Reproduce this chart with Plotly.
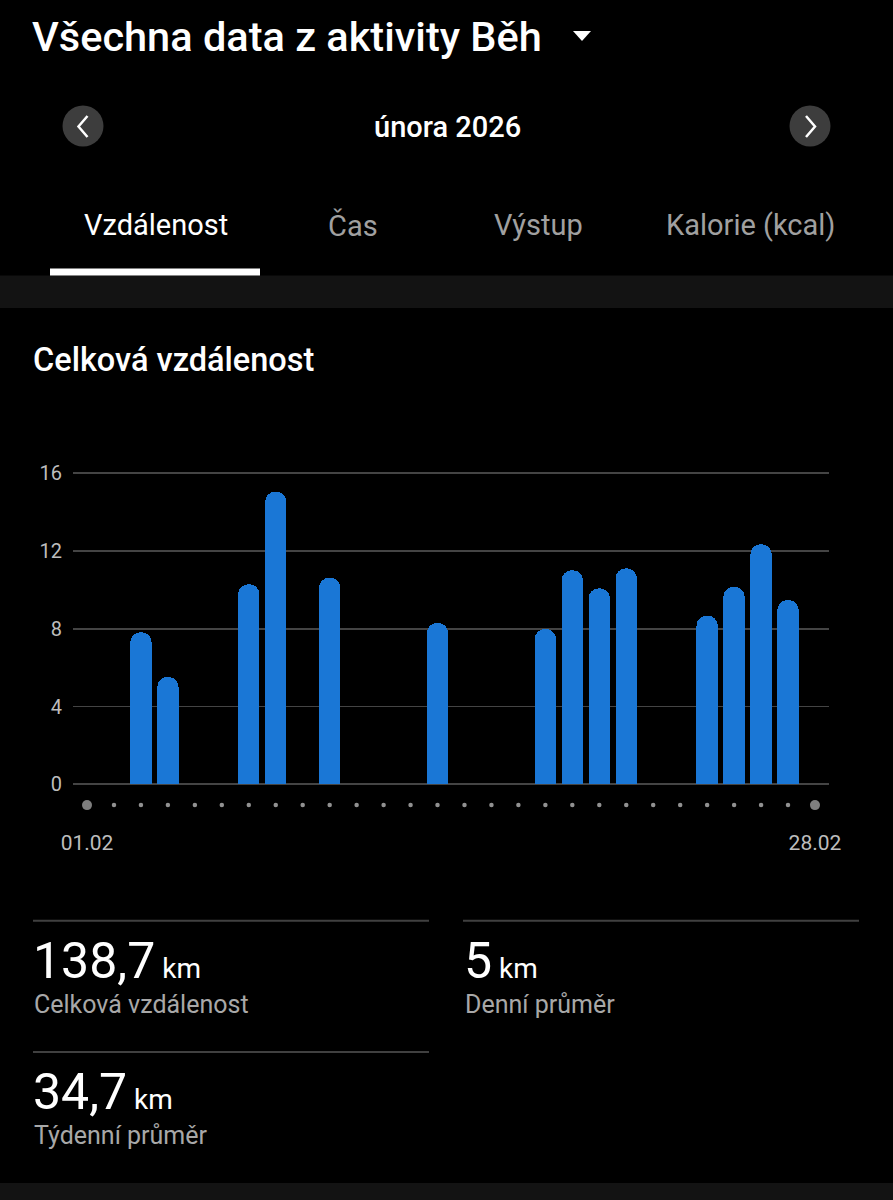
import plotly.graph_objects as go

# ---------------- data ----------------
run_days = [3, 4, 7, 8, 10, 14, 18, 19, 20, 21, 24, 25, 26, 27]
distance_km = [7.82, 5.52, 10.29, 15.05, 10.63, 8.30, 7.99, 11.01, 10.08, 11.11, 8.67, 10.16, 12.35, 9.48]
all_days = list(range(1, 29))
y_ticks = [0, 4, 8, 12, 16]
x_tick_days = [1, 28]
x_tick_labels = ["01.02", "28.02"]

title_text = "Všechna data z aktivity Běh"
month_text = "února 2026"
tabs = ["Vzdálenost", "Čas", "Výstup", "Kalorie (kcal)"]
chart_title = "Celková vzdálenost"
stat_values = ["138,7", "5", "34,7"]
stat_unit = "km"
stat_labels = ["Celková vzdálenost", "Denní průměr", "Týdenní průměr"]

# ---------------- helpers ----------------
W, H = 893, 1200
def px(x):
    return x / W
def py(y):
    return 1 - y / H

FONT = "Roboto, 'Noto Sans', sans-serif"
BLUE = "#1A77D6"
GRID = "#444444"

fig = go.Figure()

fig.add_trace(go.Bar(
    x=run_days, y=distance_km,
    marker=dict(color=BLUE, line=dict(width=0), cornerradius="50%"),
    width=0.79, hoverinfo="skip", showlegend=False,
))

# day marker dots under the axis
dot_sizes = [10 if d in (1, 28) else 4.5 for d in all_days]
dot_colors = ["#b3b3b3" if d in (1, 28) else "#cfcfcf" for d in all_days]
fig.add_trace(go.Scatter(
    x=all_days, y=[-1.07] * len(all_days), mode="markers",
    marker=dict(size=dot_sizes, color=dot_colors, line=dict(width=0)),
    hoverinfo="skip", showlegend=False, cliponaxis=False,
))

y0_px, y_unit = 784.3, 19.44
y_lo, y_hi = -1.6, 17
dom_bottom = py(y0_px - y_lo * y_unit)
dom_top = py(y0_px - y_hi * y_unit)

fig.update_layout(
    template="none",
    width=W, height=H, autosize=False,
    margin=dict(l=0, r=0, t=0, b=0, pad=0, autoexpand=False),
    paper_bgcolor="#000000", plot_bgcolor="#000000",
    font=dict(family=FONT, color="#ffffff"),
    bargap=0,
    xaxis=dict(
        domain=[px(73), px(829)], range=[0.48, 28.52], automargin=False,
        showgrid=False, zeroline=False, showline=False,
        tickvals=x_tick_days, ticktext=x_tick_labels,
        tickfont=dict(size=21, color="#bdbdbd", family=FONT),
        ticks="", ticklabelstandoff=13, fixedrange=True,
    ),
    yaxis=dict(
        domain=[dom_bottom, dom_top], range=[y_lo, y_hi], automargin=False,
        tickvals=y_ticks, showgrid=True, gridcolor=GRID, gridwidth=1.6,
        zeroline=False, showline=False, ticks="",
        tickfont=dict(size=20, color="#bdbdbd", family=FONT),
        ticklabelstandoff=10, fixedrange=True,
    ),
)

shapes = []
annotations = []

# background bands
shapes.append(dict(type="rect", xref="paper", yref="paper", x0=0, x1=1,
                   y0=py(308), y1=py(275.5), fillcolor="#131313", line=dict(width=0), layer="below"))
shapes.append(dict(type="rect", xref="paper", yref="paper", x0=0, x1=1,
                   y0=py(1200), y1=py(1183), fillcolor="#131313", line=dict(width=0), layer="below"))
# tab underline
shapes.append(dict(type="rect", xref="paper", yref="paper", x0=px(50), x1=px(260),
                   y0=py(275.5), y1=py(268.5), fillcolor="#ffffff", line=dict(width=0)))
# dropdown triangle
shapes.append(dict(type="path", xref="paper", yref="paper",
                   path=f"M {px(573)} {py(31)} L {px(591)} {py(31)} L {px(582)} {py(41)} Z",
                   fillcolor="#ffffff", line=dict(width=0)))
# nav circles
for cx in (83, 810):
    shapes.append(dict(type="circle", xref="paper", yref="paper",
                       x0=px(cx - 20.5), x1=px(cx + 20.5), y0=py(146.5), y1=py(105.5),
                       fillcolor="#3d3d3d", line=dict(width=0)))
shapes.append(dict(type="path", xref="paper", yref="paper",
                   path=f"M {px(87.5)} {py(116)} L {px(78.5)} {py(126.5)} L {px(87.5)} {py(137)}",
                   line=dict(color="#ffffff", width=2.5)))
shapes.append(dict(type="path", xref="paper", yref="paper",
                   path=f"M {px(806)} {py(116)} L {px(815)} {py(126.5)} L {px(806)} {py(137)}",
                   line=dict(color="#ffffff", width=2.5)))
# stat separator lines
for (x0, x1, yy) in [(33, 429, 920.7), (463, 859, 920.7), (33, 429, 1052)]:
    shapes.append(dict(type="line", xref="paper", yref="paper",
                       x0=px(x0), x1=px(x1), y0=py(yy), y1=py(yy),
                       line=dict(color="#404040", width=2)))

def text(t, x, y, size, color="#ffffff", anchor="left", weight=400):
    annotations.append(dict(text=t, x=px(x), y=py(y), xref="paper", yref="paper",
                            xanchor=anchor, yanchor="middle", showarrow=False,
                            font=dict(size=size, color=color, family=FONT, weight=weight)))

text(title_text, 30, 36, 41.5, weight=500)
text(month_text, 447, 127, 29, anchor="center", weight=500)
tab_x = [155.5, 353, 538, 750]
for i, (t, x) in enumerate(zip(tabs, tab_x)):
    text(t, x, 225, 29, color="#ffffff" if i == 0 else "#a0a0a0", anchor="center")
text(chart_title, 31, 360, 32.5, weight=500)

unit_span = f"<span style='font-size:28px'> {stat_unit}</span>"
stat_pos = [(31, 961, 1004), (462, 961, 1004), (31, 1092, 1135)]
for v, lab, (x, yv, yl) in zip(stat_values, stat_labels, stat_pos):
    text(v + unit_span, x, yv, 50, weight=400)
    text(lab, x + 1, yl, 25, color="#a8a8a8")

fig.update_layout(shapes=shapes, annotations=annotations)

fig.write_html("out.html", config=dict(displayModeBar=False, staticPlot=True, responsive=False),
               post_script="document.documentElement.style.overflow='hidden';document.body.style.margin='0';document.body.style.overflow='hidden';document.body.style.background='#000';")
